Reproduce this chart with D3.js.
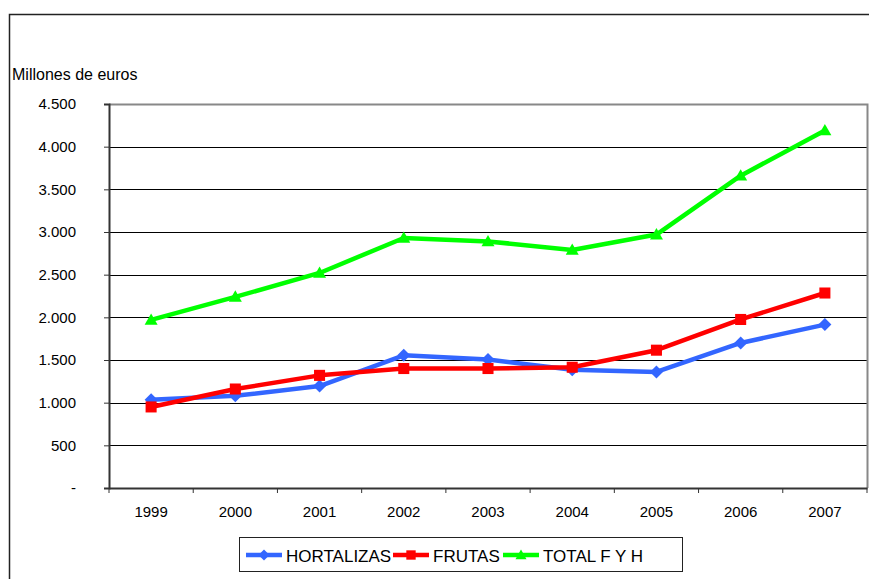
<!DOCTYPE html>
<html>
<head>
<meta charset="utf-8">
<script src="https://cdn.jsdelivr.net/npm/d3@7"></script>
<style>
  body { margin: 0; background: #fff; }
  svg { display: block; font-family: "Liberation Sans", Arial, sans-serif; }
</style>
</head>
<body>
<div id="chart"></div>
<script>
// datos (millones de euros)
const years = ["1999", "2000", "2001", "2002", "2003", "2004", "2005", "2006", "2007"];
const hortalizas = [1035, 1080, 1195, 1555, 1505, 1385, 1360, 1700, 1915];
const frutas = [950, 1160, 1320, 1400, 1400, 1415, 1615, 1975, 2285];
const totalFyH = [1970, 2240, 2520, 2930, 2890, 2790, 2970, 3660, 4190];
const yTicks = [0, 500, 1000, 1500, 2000, 2500, 3000, 3500, 4000, 4500];

const series = [
  { name: "HORTALIZAS", values: hortalizas, color: "#3366ff", mark: "diamond" },
  { name: "FRUTAS", values: frutas, color: "#ff0000", mark: "square" },
  { name: "TOTAL F Y H", values: totalFyH, color: "#00ff00", mark: "triangle" },
];

const width = 869, height = 579;
const pLeft = 109, pRight = 867, pTop = 104, pBottom = 488;

const svg = d3.select("#chart").append("svg")
  .attr("width", width).attr("height", height);

// marco exterior
svg.append("rect")
  .attr("x", 9.5).attr("y", 14.5)
  .attr("width", 880).attr("height", 600)
  .attr("fill", "none").attr("stroke", "#222").attr("stroke-width", 1.5);

const x = d3.scaleBand().domain(years).range([pLeft, pRight]);
const y = d3.scaleLinear().domain([0, 4500]).range([pBottom, pTop]);

// lineas de division
svg.append("g").selectAll("line")
  .data(yTicks.filter(d => d > 0 && d < 4500))
  .enter().append("line")
  .attr("x1", pLeft).attr("x2", pRight)
  .attr("y1", d => Math.round(y(d)) + 0.5).attr("y2", d => Math.round(y(d)) + 0.5)
  .attr("stroke", "#000").attr("stroke-width", 1);

// borde superior y derecho del area
svg.append("path")
  .attr("d", `M${pLeft},${pTop + 0.5}H${pRight + 0.5}V${pBottom}`)
  .attr("fill", "none").attr("stroke", "#888").attr("stroke-width", 2);

// eje y
const yAxis = d3.axisLeft(y).tickValues(yTicks).tickSize(5).tickPadding(28)
  .tickFormat(d => d === 0 ? "-" : d3.format(",")(d).replace(/,/g, "."));
const gy = svg.append("g").attr("transform", `translate(${pLeft},0)`).call(yAxis);
gy.select(".domain").attr("stroke", "#333").attr("stroke-width", 2);
gy.selectAll(".tick line").attr("stroke", "#333");
gy.selectAll("text").attr("font-size", 15).attr("fill", "#000")
  .attr("font-family", "Liberation Sans, Arial, sans-serif");

// eje x
const xAxis = d3.axisBottom(x).tickSize(0).tickPadding(18);
const gx = svg.append("g").attr("transform", `translate(0,${pBottom})`).call(xAxis);
gx.select(".domain").attr("stroke", "#333").attr("stroke-width", 2);
gx.selectAll("text").attr("font-size", 15).attr("fill", "#000")
  .attr("font-family", "Liberation Sans, Arial, sans-serif");
// marcas entre categorias
gx.selectAll(".sep").data(years.concat(["end"]))
  .enter().append("line").attr("class", "sep")
  .attr("x1", (d, i) => pLeft + i * x.step()).attr("x2", (d, i) => pLeft + i * x.step())
  .attr("y1", 0).attr("y2", 5).attr("stroke", "#333");

// titulo del eje
svg.append("text").attr("x", 12).attr("y", 80)
  .attr("font-size", 16).text("Millones de euros");

function marker(g, type, color, cx, cy, s) {
  if (type === "diamond") {
    g.append("path").attr("d", `M${cx},${cy - s}L${cx + s},${cy}L${cx},${cy + s}L${cx - s},${cy}Z`).attr("fill", color);
  } else if (type === "square") {
    g.append("rect").attr("x", cx - s * 0.85).attr("y", cy - s * 0.85)
      .attr("width", s * 1.7).attr("height", s * 1.7).attr("fill", color);
  } else {
    g.append("path").attr("d", `M${cx},${cy - s}L${cx + s},${cy + s * 0.75}L${cx - s},${cy + s * 0.75}Z`).attr("fill", color);
  }
}

const line = d3.line().x((d, i) => x(years[i]) + x.bandwidth() / 2).y(d => y(d));

series.forEach(s => {
  const g = svg.append("g");
  g.append("path").datum(s.values).attr("d", line)
    .attr("fill", "none").attr("stroke", s.color).attr("stroke-width", 4.5)
    .attr("stroke-linejoin", "round");
  s.values.forEach((v, i) => marker(g, s.mark, s.color, x(years[i]) + x.bandwidth() / 2, y(v), 6.5));
});

// leyenda
const leg = svg.append("g");
leg.append("rect").attr("x", 239.5).attr("y", 537.5).attr("width", 443).attr("height", 34)
  .attr("fill", "#fff").attr("stroke", "#222").attr("stroke-width", 1);
const legX = [246, 393, 503];
series.forEach((s, i) => {
  const lx = legX[i], ly = 555;
  leg.append("line").attr("x1", lx).attr("x2", lx + 36).attr("y1", ly).attr("y2", ly)
    .attr("stroke", s.color).attr("stroke-width", 4.5);
  marker(leg, s.mark, s.color, lx + 18, ly, 5.5);
  leg.append("text").attr("x", lx + 40).attr("y", ly + 7).attr("font-size", 17).text(s.name);
});
</script>
</body>
</html>
